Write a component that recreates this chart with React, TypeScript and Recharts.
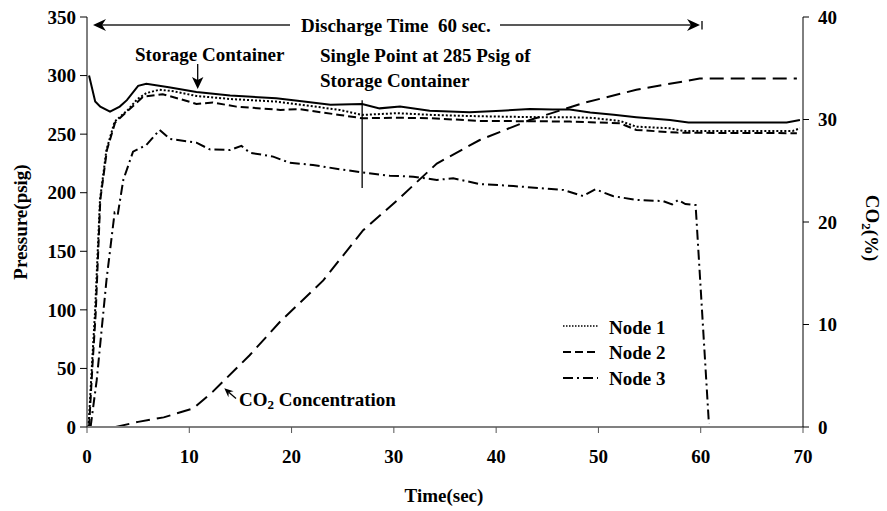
import React from 'react';
import { LineChart, Line, XAxis, YAxis, ReferenceLine } from 'recharts';

// storage container (solid)
const storageTime = [0.2, 0.8, 1.3, 2.25, 3.2, 3.9, 5.0, 5.8, 8.0, 10.7, 14.0, 18.5, 21.0, 23.8, 26.9, 28.6, 30.6, 33.5, 37.4, 40.5, 43.3, 45.5, 47.2, 49.2, 51.5, 53.7, 57.0, 58.8, 63.0, 68.4, 69.7];
const storagePsig = [300, 277.8, 273.5, 269.2, 273.5, 279, 291.2, 293, 290, 286, 283, 280.6, 278, 275, 275.8, 272, 273.5, 270, 268.7, 270, 271.5, 271, 271, 268.5, 266.5, 264.5, 262, 260, 260, 260, 262];

const node1Time = [0.15, 0.5, 0.78, 1.27, 1.9, 2.7, 4.0, 4.9, 5.8, 7.1, 8.5, 10.7, 14, 18.5, 21, 24.7, 26.9, 30.3, 33.5, 36.8, 40, 44, 47.2, 49.2, 52.1, 53.7, 57, 58.3, 62, 66, 69, 69.7];
const node1Psig = [0, 55, 97, 194, 236.5, 260.7, 270.7, 279.8, 285, 288, 286.5, 282.6, 280, 277.8, 275, 270.7, 266.4, 267.9, 266.5, 265.6, 265, 264.5, 264.4, 264, 261.3, 256.4, 255, 252.7, 252.7, 252.7, 252.7, 255];

const node2Time = [0.2, 0.55, 0.85, 1.3, 1.95, 2.75, 4.0, 5.5, 7.4, 9.1, 10.7, 12.3, 14.6, 18.9, 20.8, 24.7, 26.9, 30, 33.5, 38.4, 44, 47.2, 49.2, 52.1, 53.7, 57.7, 62, 66, 69.4];
const node2Psig = [0, 55, 97, 194, 236.5, 260, 270, 282, 284, 280, 275.8, 277, 273.5, 270.7, 271.3, 266.4, 263.6, 264, 263.6, 261.3, 261, 260.7, 260.2, 259.3, 253.6, 251.3, 251, 251, 250.8];

const node3Time = [0.35, 0.95, 1.9, 2.7, 3.0, 3.55, 4.5, 5.8, 7.1, 8.1, 10.7, 12.0, 14.0, 15.1, 15.9, 18.2, 19.8, 22.1, 24.7, 26.9, 29.6, 31.9, 34.2, 35.8, 38.4, 41.7, 46.6, 48.5, 49.7, 51.4, 53.7, 56.3, 57.2, 57.8, 58.5, 59.5, 60.8];
const node3Psig = [0, 40, 125, 183, 181, 211, 235, 240.7, 253.6, 245.9, 242.7, 237, 236.5, 240, 234.2, 230.8, 225.6, 223.7, 220, 217.4, 214.5, 213.7, 210.9, 212.3, 207.4, 205.7, 202.3, 197.2, 202.9, 197.2, 193.8, 192.9, 190, 193.8, 190.3, 189.5, 3];

const co2Time = [2.8, 5, 7.5, 10.4, 12.3, 15.9, 18.9, 23.1, 27, 30.3, 34.2, 38.4, 43.3, 48.5, 53.7, 59.9, 65, 69.4];
const co2Pct = [0, 0.5, 0.94, 1.82, 3.45, 7.0, 10.3, 14.3, 19.2, 22.1, 25.7, 28.0, 29.95, 31.6, 32.9, 34.0, 34.0, 34.0];

const timeTicks = [0, 10, 20, 30, 40, 50, 60, 70];
const psigTicks = [0, 50, 100, 150, 200, 250, 300, 350];
const co2Ticks = [0, 10, 20, 30, 40];

const zip = (t: number[], v: number[]) => t.map((x, i) => ({ t: x, v: v[i] }));

const FONT = "'Liberation Serif', 'Times New Roman', serif";
const tickStyle = { fontFamily: FONT, fontWeight: 700, fontSize: 19, fill: '#000' };

export default function App() {
  const storage = zip(storageTime, storagePsig);
  const node1 = zip(node1Time, node1Psig);
  const node2 = zip(node2Time, node2Psig);
  const node3 = zip(node3Time, node3Psig);
  const co2 = zip(co2Time, co2Pct);

  const txt = { fontFamily: FONT, fontWeight: 700, fontSize: 19, fill: '#000' } as const;

  return (
    <div style={{ position: 'absolute', left: 0, top: 0, width: 887, height: 511, background: '#fff' }}>
      <LineChart width={887} height={511} margin={{ top: 17, right: 0, bottom: 0, left: 0 }}>
        <XAxis
          type="number"
          dataKey="t"
          domain={[0, 70]}
          ticks={timeTicks}
          allowDataOverflow
          height={84}
          tickSize={6}
          tickMargin={17}
          tick={tickStyle}
          axisLine={{ stroke: '#808080', strokeWidth: 2 }}
          tickLine={{ stroke: '#555' }}
        />
        <YAxis
          yAxisId="p"
          domain={[0, 350]}
          ticks={psigTicks}
          width={87}
          tickSize={7}
          tickMargin={4}
          tick={tickStyle}
          axisLine={{ stroke: '#000' }}
          tickLine={{ stroke: '#000' }}
        />
        <YAxis
          yAxisId="c"
          orientation="right"
          domain={[0, 40]}
          ticks={co2Ticks}
          width={84}
          tickSize={6}
          tickMargin={9}
          tick={tickStyle}
          axisLine={{ stroke: '#000' }}
          tickLine={{ stroke: '#000' }}
        />
        <Line yAxisId="p" data={storage} dataKey="v" type="linear" stroke="#000" strokeWidth={2} dot={false} isAnimationActive={false} />
        <Line yAxisId="p" data={node1} dataKey="v" type="linear" stroke="#000" strokeWidth={2} strokeDasharray="2 2" dot={false} isAnimationActive={false} />
        <Line yAxisId="p" data={node2} dataKey="v" type="linear" stroke="#000" strokeWidth={2} strokeDasharray="8 4" dot={false} isAnimationActive={false} />
        <Line yAxisId="p" data={node3} dataKey="v" type="linear" stroke="#000" strokeWidth={2} strokeDasharray="10 4 2 4" dot={false} isAnimationActive={false} />
        <Line yAxisId="c" data={co2} dataKey="v" type="linear" stroke="#000" strokeWidth={2} strokeDasharray="14 7" dot={false} isAnimationActive={false} />
        <ReferenceLine yAxisId="p" segment={[{ x: 26.9, y: 204 }, { x: 26.9, y: 279 }]} stroke="#000" strokeWidth={1.3} />
      </LineChart>

      <svg width={887} height={511} style={{ position: 'absolute', left: 0, top: 0, pointerEvents: 'none' }}>
        {/* discharge time arrow */}
        <line x1={100} y1={25} x2={290} y2={25} stroke="#222" strokeWidth={1.3} />
        <line x1={500} y1={25} x2={692} y2={25} stroke="#222" strokeWidth={1.3} />
        <path d="M93,25 L106,19 L102,25 L106,31 Z" fill="#000" />
        <path d="M700,25 L687,19 L691,25 L687,31 Z" fill="#000" />
        <line x1={702} y1={21} x2={702} y2={29.5} stroke="#000" strokeWidth={1.3} />
        <text x={301} y={25} dominantBaseline="central" style={{ ...txt, whiteSpace: 'pre' }}>Discharge Time  60 sec.</text>

        {/* storage container */}
        <text x={135} y={54} dominantBaseline="central" style={txt}>Storage Container</text>
        <line x1={197.7} y1={64} x2={197.7} y2={81} stroke="#000" strokeWidth={1.3} />
        <path d="M197.7,89 L192,77 L197.7,80 L203.4,77 Z" fill="#000" />

        <text x={320} y={55} dominantBaseline="central" style={txt}>Single Point at 285 Psig of</text>
        <text x={320} y={80} dominantBaseline="central" style={txt}>Storage Container</text>

        {/* CO2 concentration */}
        <line x1={228.8} y1={392.3} x2={236} y2={398.5} stroke="#000" strokeWidth={1.3} />
        <path d="M224.3,388.3 L233.6,391.2 L228.8,392.3 L228.4,397.2 Z" fill="#000" />
        <text x={239} y={399} dominantBaseline="central" style={txt}>
          CO<tspan fontSize={13} dy={5}>2</tspan><tspan dy={-5}> Concentration</tspan>
        </text>

        {/* legend */}
        <line x1={563} y1={326} x2={598} y2={326} stroke="#000" strokeWidth={1.5} strokeDasharray="1.5 1.5" />
        <line x1={563} y1={352} x2={598} y2={352} stroke="#000" strokeWidth={2} strokeDasharray="8 4" />
        <line x1={563} y1={378} x2={598} y2={378} stroke="#000" strokeWidth={2} strokeDasharray="10 4 2 4" />
        <text x={609} y={327} dominantBaseline="central" style={txt}>Node 1</text>
        <text x={609} y={352} dominantBaseline="central" style={txt}>Node 2</text>
        <text x={609} y={378} dominantBaseline="central" style={txt}>Node 3</text>

        {/* axis titles */}
        <text transform="translate(20,222) rotate(-90)" textAnchor="middle" dominantBaseline="central" style={txt}>Pressure(psig)</text>
        <text transform="translate(872,228) rotate(90)" textAnchor="middle" dominantBaseline="central" style={txt}>
          CO<tspan fontSize={13} dy={5}>2</tspan><tspan dy={-5}>(%)</tspan>
        </text>
        <text x={444} y={495} textAnchor="middle" dominantBaseline="central" style={txt}>Time(sec)</text>
      </svg>
    </div>
  );
}
